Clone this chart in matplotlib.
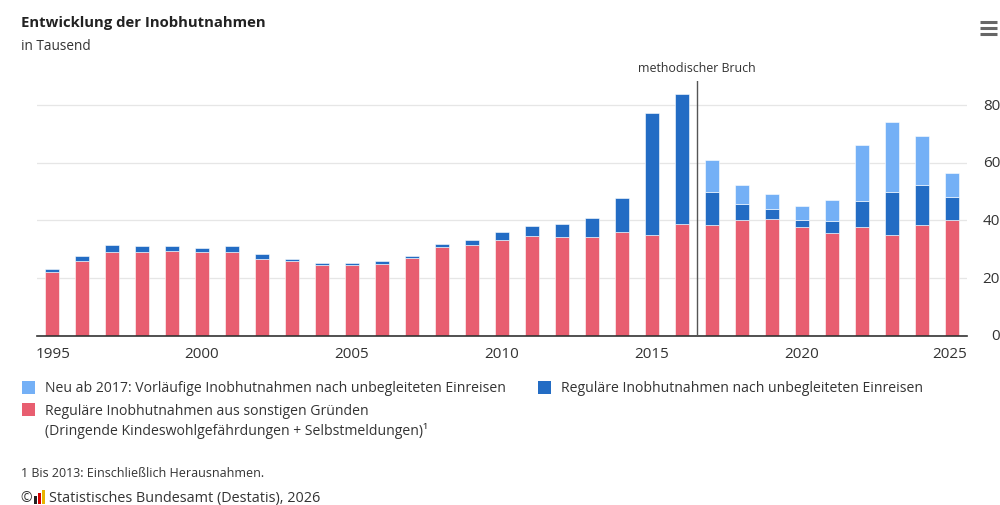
import matplotlib
matplotlib.use("Agg")
import matplotlib.pyplot as plt
from matplotlib.patches import Rectangle
from matplotlib.lines import Line2D
import numpy as np

plt.rcParams['font.family'] = ['Open Sans', 'DejaVu Sans']

years = list(range(1995, 2026))
red = [22.0, 25.8, 29.2, 29.2, 29.6, 29.2, 29.2, 26.8, 25.8, 24.7, 24.6, 24.9, 26.9, 30.8, 31.5,
       33.1, 34.6, 34.2, 34.2, 36.1, 35.1, 38.8, 38.6, 40.1, 40.4, 37.7, 35.8, 37.7, 35.1, 38.6, 40.1]
blue = [1.1, 1.8, 2.2, 1.9, 1.5, 1.4, 1.9, 1.6, 1.0, 0.6, 0.7, 0.9, 0.7, 1.1, 1.9,
        3.0, 3.5, 4.6, 6.6, 11.6, 42.1, 45.0, 11.3, 5.5, 3.7, 2.6, 4.1, 9.2, 14.8, 13.7, 7.9]
light = [0] * 22 + [11.2, 6.7, 5.1, 4.7, 7.3, 19.2, 24.3, 16.8, 8.4]
xticks = [1995, 2000, 2005, 2010, 2015, 2020, 2025]
yticks = [0, 20, 40, 60, 80]

c_red = '#E85E70'
c_blue = '#236CC4'
c_light = '#74B0F6'
txt = '#333333'

W, H = 1000, 506
fig = plt.figure(figsize=(W / 100, H / 100), dpi=100)
ax = fig.add_axes([37 / W, 1 - 337 / H, (967 - 37) / W, (337 - 82) / H])

x = np.array(years)
red_a = np.array(red)
blue_a = np.array(blue)
light_a = np.array(light)
bw = 0.48
ax.bar(x, red_a, width=bw, color=c_red, edgecolor='white', linewidth=0.4, zorder=3)
ax.bar(x, blue_a, bottom=red_a, width=bw, color=c_blue, edgecolor='white', linewidth=0.4, zorder=3)
mask = light_a > 0
ax.bar(x[mask], light_a[mask], bottom=(red_a + blue_a)[mask], width=bw, color=c_light,
       edgecolor='white', linewidth=0.4, zorder=3)

ax.set_xlim(1994.5, 2025.5)
ax.set_ylim(0, 88.3)
for s in ['top', 'left', 'right']:
    ax.spines[s].set_visible(False)
ax.spines['bottom'].set_color('#333333')
ax.spines['bottom'].set_linewidth(1.2)
ax.spines['bottom'].set_zorder(4)

ax.set_yticks(yticks)
ax.yaxis.grid(True, color='#e6e6e6', linewidth=0.9, zorder=0)
ax.tick_params(axis='y', length=0, labelleft=False, labelright=False)
for v in yticks:
    fig.text(1000 / W, 1 - (337 - v * 2.8875) / H, str(v), ha='right', va='center',
             fontsize=11, color=txt)

ax.set_xticks(xticks)
ax.set_xticklabels([])
ax.tick_params(axis='x', length=0)
for yr in xticks:
    if yr == xticks[0]:
        ha, xp = 'left', 36
    elif yr == xticks[-1]:
        ha, xp = 'right', 967
    else:
        ha, xp = 'center', 37 + (yr - 1994.5) * 30
    fig.text(xp / W, 1 - 355 / H, str(yr), ha=ha, va='center', fontsize=11, color=txt)

# methodischer Bruch
ax.axvline(2016.5, color='#555555', linewidth=1, zorder=5)
fig.text((37 + (2016.5 - 1994.5) * 30) / W, 1 - 69 / H, 'methodischer Bruch', ha='center',
         va='center', fontsize=8.9, color=txt)

# titles
fig.text(21 / W, 1 - 23 / H, 'Entwicklung der Inobhutnahmen', ha='left', va='center',
         fontsize=10.7, fontweight='bold', color='#222222')
fig.text(21 / W, 1 - 47 / H, 'in Tausend', ha='left', va='center', fontsize=9.8, color=txt)

# hamburger menu
for yy in [23, 29, 35]:
    fig.add_artist(Line2D([980 / W, 997 / W], [1 - yy / H, 1 - yy / H], color='#666666',
                          linewidth=2.2, solid_capstyle='butt'))

# legend
def square(px, py, color):
    fig.add_artist(Rectangle((px / W, 1 - (py + 13) / H), 13 / W, 13 / H, facecolor=color,
                             edgecolor='none', transform=fig.transFigure))

lfs = 10.1
square(22, 382, c_light)
fig.text(45 / W, 1 - 389 / H, 'Neu ab 2017: Vorläufige Inobhutnahmen nach unbegleiteten Einreisen',
         ha='left', va='center', fontsize=lfs, color=txt)
square(538, 382, c_blue)
fig.text(561 / W, 1 - 389 / H, 'Reguläre Inobhutnahmen nach unbegleiteten Einreisen',
         ha='left', va='center', fontsize=lfs, color=txt)
square(22, 404, c_red)
fig.text(45 / W, 1 - 412 / H, 'Reguläre Inobhutnahmen aus sonstigen Gründen',
         ha='left', va='center', fontsize=lfs, color=txt)
fig.text(45 / W, 1 - 431 / H, '(Dringende Kindeswohlgefährdungen + Selbstmeldungen)¹',
         ha='left', va='center', fontsize=lfs, color=txt)

# footnote & source
fig.text(21 / W, 1 - 474 / H, '1 Bis 2013: Einschließlich Herausnahmen.', ha='left', va='center',
         fontsize=9, color=txt)
fig.text(20 / W, 1 - 499 / H, '©', ha='left', va='center', fontsize=10, color=txt)
for i, col in enumerate(['#222222', '#d40000', '#e8b400']):
    hh = [8, 11, 14][i]
    fig.add_artist(Rectangle(((34 + i * 4) / W, 1 - 505 / H), 2.5 / W, hh / H, facecolor=col,
                             edgecolor='none', transform=fig.transFigure))
fig.text(49 / W, 1 - 499 / H, 'Statistisches Bundesamt (Destatis), 2026', ha='left', va='center',
         fontsize=10.4, color=txt)

fig.savefig('out.png', dpi=100, facecolor='white')
